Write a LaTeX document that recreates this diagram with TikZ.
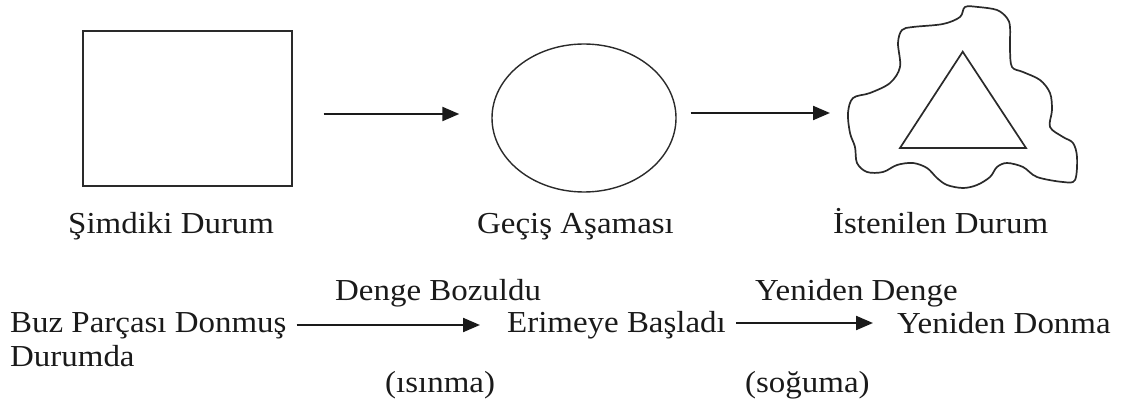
\documentclass[tikz,border=0pt]{standalone}
\usepackage{fontspec}
\setmainfont{Liberation Serif}[FakeStretch=1.08]
\usetikzlibrary{arrows.meta,shapes.geometric}
\definecolor{ink}{HTML}{1A1A1A}
\definecolor{linec}{HTML}{2A2A2A}
\tikzset{
  lbl/.style={inner sep=0pt, text=ink, font=\fontsize{30.5}{34}\selectfont},
  arr/.style={line width=2.2pt, draw=ink, -{Triangle[length=17pt,width=14pt]}},
  shapeline/.style={draw=linec, line width=1.4pt},
}
\begin{document}
\begin{tikzpicture}[x=1pt,y=-1pt]
\useasboundingbox (0,0) rectangle (1122,409);
% top row shapes
\node[shapeline, minimum width=209pt, minimum height=155pt, inner sep=0pt] (sq) at (187.5,108.5) {};
\node[shapeline, ellipse, minimum width=184pt, minimum height=148pt, inner sep=0pt] (circ) at (584,118) {};
\draw[linec, line width=1.7pt] plot[smooth cycle, tension=0.55] coordinates {
 (965,7) (978,7) (997,10) (1007,18) (1010,27) (1010,50) (1012,67) (1023,72) (1040,80)
 (1050,93) (1052,110) (1050,127) (1063,137) (1073,143) (1077,157) (1075,180) (1063,182)
 (1037,177) (1023,167) (1007,163) (997,167) (990,177) (977,185) (963,188) (947,185)
 (937,178) (927,168) (913,163) (897,165) (883,172) (867,172) (857,163) (855,147)
 (850,133) (848,113) (853,98) (870,93) (890,83) (900,67) (898,43) (902,30) (913,27)
 (943,24) (960,17)};
\coordinate (blobw) at (848,113);
\draw[linec, line width=1.7pt, line join=miter] (962.7,51.7) -- (1026,148) -- (900,148) -- cycle;
% top arrows
\draw[arr, shorten <=31pt, shorten >=32pt] (sq.east |- 0,114) -- (circ.west |- 0,114);
\draw[arr, shorten <=14pt, shorten >=18pt] (circ.east |- 0,113) -- (blobw |- 0,113);
% top labels
\node[lbl, anchor=base west] (t1) at (68,233) {Şimdiki Durum};
\node[lbl, anchor=base west] (t2) at (477,233) {Geçiş Aşaması};
\node[lbl, anchor=base west] (t3) at (833,233) {İstenilen Durum};
% bottom row
\node[lbl, anchor=base west, align=left] (buz) at (10,366) {Buz Parçası Donmuş\\Durumda};
\node[lbl, anchor=base west] (erime) at (507,332) {Erimeye Başladı};
\node[lbl, anchor=base west] (donma) at (897,333) {Yeniden Donma};
\node[lbl, anchor=base west] (dengeb) at (335,300) {Denge Bozuldu};
\node[lbl, anchor=base west] (dengey) at (755,300) {Yeniden Denge};
\node[lbl, anchor=base west] (isinma) at (385,392) {(ısınma)};
\node[lbl, anchor=base west] (soguma) at (745,392) {(soğuma)};
\draw[arr, shorten <=10pt, shorten >=27pt] (buz.east |- 0,325) -- (erime.west |- 0,325);
\draw[arr, shorten <=10pt, shorten >=24pt] (erime.east |- 0,323) -- (donma.west |- 0,323);
\end{tikzpicture}
\end{document}
